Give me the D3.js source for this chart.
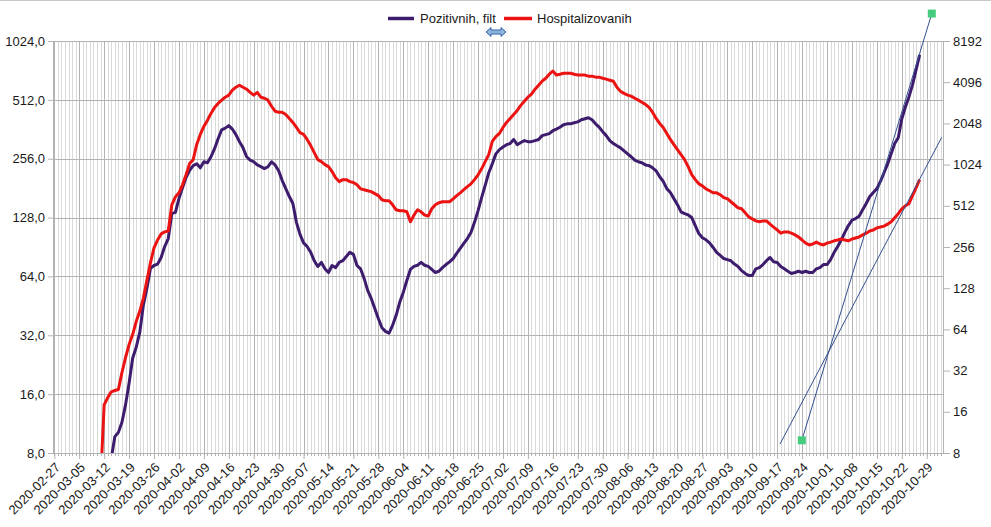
<!DOCTYPE html>
<html lang="sr">
<head>
<meta charset="UTF-8">
<title>Pozitivnih, filt / Hospitalizovanih</title>
<script src="https://d3js.org/d3.v7.min.js"></script>
<style>
  body { margin: 0; background: #fff; }
  svg { display: block; font-family: "Liberation Sans", Arial, sans-serif; }
</style>
</head>
<body>
<script>
// weekly category labels on the x axis
const tickLabels = [
  "2020-02-27","2020-03-05","2020-03-12","2020-03-19","2020-03-26","2020-04-02",
  "2020-04-09","2020-04-16","2020-04-23","2020-04-30","2020-05-07","2020-05-14",
  "2020-05-21","2020-05-28","2020-06-04","2020-06-11","2020-06-18","2020-06-25",
  "2020-07-02","2020-07-09","2020-07-16","2020-07-23","2020-07-30","2020-08-06",
  "2020-08-13","2020-08-20","2020-08-27","2020-09-03","2020-09-10","2020-09-17",
  "2020-09-24","2020-10-01","2020-10-08","2020-10-15","2020-10-22","2020-10-29"
];
const leftTicks = [8, 16, 32, 64, 128, 256, 512, 1024];
const rightTicks = [8, 16, 32, 64, 128, 256, 512, 1024, 2048, 4096, 8192];

// daily values, first day given separately
const pozitivnihStart = "2020-03-14";
const pozitivnih = [
  7.5, 9.7, 10.2, 11.5, 14.1, 18.2, 24.4, 27.8, 33.1, 45.6,
  55.6, 70.3, 72.8, 74, 80, 91, 100, 134, 136, 160,
  182, 205, 223, 236, 241, 230, 247, 244, 262, 288,
  324, 360, 367, 378, 363, 340, 313, 291, 262, 252,
  247, 238, 233, 228, 233, 247, 238, 222, 198, 180,
  164, 151, 121, 105, 95, 91, 85, 77, 72, 75.5,
  70, 67, 72.8, 71, 75.5, 77, 81, 85, 83, 72.8,
  70, 62.5, 54.3, 49.4, 43.9, 39, 35, 33.5, 32.8, 36,
  40.5, 47.2, 53, 61, 69.5, 72, 73, 75.5, 73, 72,
  69.5, 67, 68, 71, 73.6, 76, 79, 84, 89, 94.4,
  100, 107.5, 121, 139, 162, 187, 217, 241, 271, 285,
  294, 302, 306, 321, 302, 310, 317, 313, 313, 317,
  321, 336, 340, 344, 356, 363, 371, 382, 386, 386,
  391, 395, 405, 410, 415, 405, 386, 371, 352, 336,
  317, 306, 298, 291, 281, 271, 262, 252, 247, 244,
  238, 236, 230, 222, 207, 196, 180, 172, 160, 149,
  137, 134, 132, 128, 116.5, 106, 101, 98.5, 95, 90,
  85, 82, 79, 78, 77, 74, 72, 68.5, 66.3, 64.7,
  64.7, 70, 71, 73.6, 77, 80, 76, 75.5, 72, 70,
  68, 66.3, 67, 68, 67, 68, 67, 67, 70, 71,
  73.6, 73.6, 78, 85, 91, 98.5, 107.5, 116.5, 124, 126.5,
  130, 140.5, 151, 164, 172, 180, 196, 217, 240, 271,
  306, 328, 410, 471, 530, 611, 729, 869
];

const hospitalizovanihStart = "2020-03-11";
const hospitalizovanih = [
  5, 18, 20.3, 22.4, 22.9, 23.3, 31, 39.8, 49.6, 58.7,
  73, 86.7, 108, 146, 196, 252, 288, 319, 330, 335,
  521, 595, 637, 729, 863, 1041, 1113, 1438, 1702, 1948,
  2154, 2423, 2681, 2867, 3027, 3183, 3293, 3580, 3764, 3893,
  3764, 3640, 3453, 3293, 3453, 3183, 3130, 3027, 2733, 2514,
  2472, 2472, 2382, 2228, 2082, 1914, 1754, 1702, 1565, 1410,
  1253, 1113, 1077, 1024, 990, 911, 822, 769, 795, 795,
  769, 757, 729, 681, 671, 660, 650, 629, 608, 567,
  558, 558, 521, 479, 471, 471, 463, 391, 438, 479,
  463, 438, 431, 487, 521, 539, 548, 548, 548, 576,
  608, 637, 671, 706, 741, 795, 863, 954, 1077, 1211,
  1511, 1640, 1731, 1914, 2082, 2228, 2382, 2549, 2773, 2974,
  3183, 3348, 3640, 3893, 4165, 4379, 4685, 4937, 4618, 4685,
  4763, 4763, 4763, 4685, 4618, 4618, 4618, 4535, 4535, 4460,
  4460, 4379, 4310, 4237, 4165, 3764, 3511, 3397, 3293, 3238,
  3130, 3027, 2926, 2820, 2681, 2472, 2228, 2048, 1914, 1731,
  1565, 1434, 1320, 1211, 1113, 990, 866, 795, 741, 716,
  681, 660, 637, 637, 617, 587, 577, 548, 521, 495,
  487, 455, 425, 411, 397, 391, 397, 397, 376, 358,
  341, 323, 330, 330, 323, 314, 303, 288, 273, 265,
  269, 278, 269, 265, 273, 278, 284, 288, 293, 288,
  284, 293, 298, 303, 314, 323, 335, 341, 353, 358,
  364, 376, 391, 418, 448, 487, 512, 530, 608, 693,
  795
];

// two straight lines drawn over the chart (date, value on the right axis)
const trendA = [["2020-09-17T19:00", 9.3], ["2020-11-02T05:00", 1621]];
const trendB = [["2020-09-23T22:00", 9.9], ["2020-10-30T10:00", 13000]];

const width = 991, height = 527;
const plotL = 53, plotR = 943, plotT = 41, plotB = 453;

const parseDay = d3.utcParse("%Y-%m-%d");
const parseTime = d3.utcParse("%Y-%m-%dT%H:%M");
const day0 = parseDay(tickLabels[0]);

const x = d3.scaleUtc()
  .domain([day0, d3.utcDay.offset(day0, 250)])
  .range([54.3, 54.3 + 250 * 3.561]);
const yL = d3.scaleLog().base(2).domain([8, 1024]).range([plotB, plotT]);
const yR = d3.scaleLog().base(2).domain([8, 8192]).range([plotB, plotT]);

const svg = d3.select("body").append("svg")
  .attr("width", width).attr("height", height);

// frame line at the top
svg.append("line").attr("x1", 0).attr("x2", width).attr("y1", 0.5).attr("y2", 0.5)
  .attr("stroke", "#c8c8c8");

// grid
const days = d3.utcDay.range(day0, d3.utcDay.offset(day0, 250));
const weekTicks = tickLabels.map(parseDay);
const grid = svg.append("g");
grid.selectAll("line.minor").data(days).join("line")
  .attr("class", "minor")
  .attr("x1", d => Math.round(x(d)) + 0.5).attr("x2", d => Math.round(x(d)) + 0.5)
  .attr("y1", plotT).attr("y2", plotB)
  .attr("stroke", "#dadada");
grid.selectAll("line.major").data(weekTicks).join("line")
  .attr("class", "major")
  .attr("x1", d => Math.round(x(d)) + 0.5).attr("x2", d => Math.round(x(d)) + 0.5)
  .attr("y1", plotT).attr("y2", plotB)
  .attr("stroke", "#b3b3b3");
grid.selectAll("line.h").data(leftTicks).join("line")
  .attr("class", "h")
  .attr("x1", plotL).attr("x2", plotR)
  .attr("y1", d => Math.round(yL(d)) + 0.5).attr("y2", d => Math.round(yL(d)) + 0.5)
  .attr("stroke", "#b3b3b3");

// daily minor ticks under the x axis
svg.append("g").selectAll("line").data(days).join("line")
  .attr("x1", d => Math.round(x(d)) + 0.5).attr("x2", d => Math.round(x(d)) + 0.5)
  .attr("y1", plotB).attr("y2", plotB + 3)
  .attr("stroke", "#b3b3b3");

const locale = d3.formatLocale({decimal: ",", thousands: ".", grouping: [3], currency: ["", ""]});
const fmt1 = locale.format(".1f");

function styleAxis(g) {
  g.select(".domain").attr("stroke", "#b3b3b3");
  g.selectAll(".tick line").attr("stroke", "#b3b3b3");
  g.selectAll(".tick text").attr("fill", "#1a1a1a").style("font-size", "13px")
    .style("font-family", "'Liberation Sans', Arial, sans-serif");
}

svg.append("g").attr("transform", `translate(${plotL},0)`)
  .call(d3.axisLeft(yL).tickValues(leftTicks).tickFormat(fmt1).tickSize(5).tickPadding(3).tickSizeOuter(0))
  .call(styleAxis);

svg.append("g").attr("transform", `translate(${plotR},0)`)
  .call(d3.axisRight(yR).tickValues(rightTicks).tickFormat(d3.format("d")).tickSize(7).tickPadding(3).tickSizeOuter(0))
  .call(styleAxis);

const xAxis = svg.append("g").attr("transform", `translate(0,${plotB})`)
  .call(d3.axisBottom(x).tickValues(weekTicks).tickFormat(d3.utcFormat("%Y-%m-%d")).tickSize(6).tickSizeOuter(0))
  .call(styleAxis);
xAxis.select(".domain").attr("d", `M${plotL},0.5H${plotR}`);
xAxis.selectAll(".tick text")
  .attr("y", 0).attr("dy", "0.35em")
  .attr("transform", "translate(3,12) rotate(-45)")
  .style("text-anchor", "end");

// series
svg.append("clipPath").attr("id", "plot")
  .append("rect").attr("x", plotL).attr("y", plotT - 2)
  .attr("width", plotR - plotL).attr("height", plotB - plotT + 2);

function toPoints(start, values) {
  const s = parseDay(start);
  return values.map((v, i) => [d3.utcDay.offset(s, i), v]);
}

const lineL = d3.line().x(d => x(d[0])).y(d => yL(d[1]));
const lineR = d3.line().x(d => x(d[0])).y(d => yR(d[1]));

const series = svg.append("g").attr("clip-path", "url(#plot)");
series.append("path").datum(toPoints(pozitivnihStart, pozitivnih))
  .attr("d", lineL).attr("fill", "none")
  .attr("stroke", "#3d1c6e").attr("stroke-width", 3).attr("stroke-linejoin", "round");
series.append("path").datum(toPoints(hospitalizovanihStart, hospitalizovanih))
  .attr("d", lineR).attr("fill", "none")
  .attr("stroke", "#ec1313").attr("stroke-width", 3).attr("stroke-linejoin", "round");

// drawn lines with end markers
const trend = svg.append("g");
[trendA, trendB].forEach(t => {
  const pts = t.map(d => [x(parseTime(d[0])), yR(d[1])]);
  trend.append("line")
    .attr("x1", pts[0][0]).attr("y1", pts[0][1])
    .attr("x2", pts[1][0]).attr("y2", pts[1][1])
    .attr("stroke", "#35508f").attr("stroke-width", 1);
});
trendB.forEach(d => {
  trend.append("rect")
    .attr("x", x(parseTime(d[0])) - 4).attr("y", yR(d[1]) - 4)
    .attr("width", 8).attr("height", 8)
    .attr("fill", "#45cc7f");
});

// legend
const legend = svg.append("g").style("font-size", "13px").attr("fill", "#1a1a1a");
legend.append("line").attr("x1", 388).attr("x2", 414).attr("y1", 18.5).attr("y2", 18.5)
  .attr("stroke", "#3d1c6e").attr("stroke-width", 3.5);
legend.append("text").attr("x", 420).attr("y", 23).text("Pozitivnih, filt");
legend.append("line").attr("x1", 504).attr("x2", 532).attr("y1", 18.5).attr("y2", 18.5)
  .attr("stroke", "#ec1313").attr("stroke-width", 3.5);
legend.append("text").attr("x", 537).attr("y", 23).text("Hospitalizovanih");

// small double arrow handle under the legend
svg.append("path")
  .attr("d", "M486,32 L491,27.5 L491,30 L501,30 L501,27.5 L506,32 L501,36.5 L501,34 L491,34 L491,36.5 Z")
  .attr("fill", "#8fb4de").attr("stroke", "#3465a4").attr("stroke-width", 1);
</script>
</body>
</html>
